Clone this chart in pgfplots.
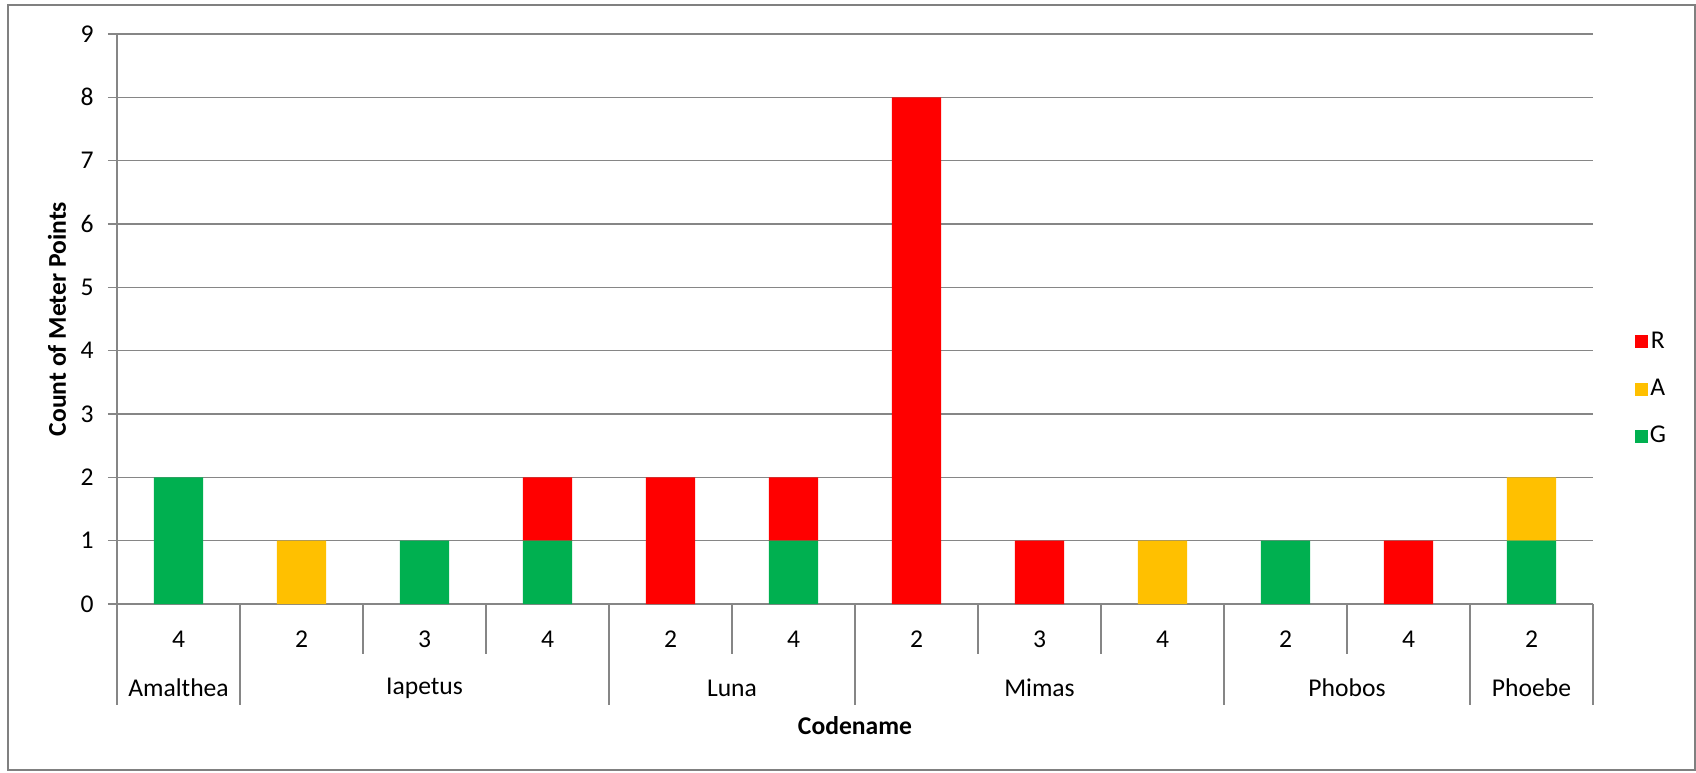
\documentclass[border=0pt]{standalone}
\usepackage{pgfplots}
\pgfplotsset{compat=1.18}
\usepackage{fontspec}
\setmainfont{Carlito}
\definecolor{cR}{RGB}{255,0,0}
\definecolor{cA}{RGB}{255,192,0}
\definecolor{cG}{RGB}{0,176,80}
\definecolor{gridc}{RGB}{134,134,134}
\definecolor{framec}{RGB}{128,128,128}
\begin{document}
\fontsize{12.8}{15}\selectfont
\begin{tikzpicture}
\path[use as bounding box] (0,0) rectangle (848pt,386pt);
\draw[framec, line width=1pt] (4pt,1pt) rectangle (847.5pt,383.5pt);
\begin{axis}[
  at={(58.5pt,84pt)}, anchor=south west,
  scale only axis, width=738pt, height=285pt,
  ybar stacked, bar width=0.4,
  xmin=-0.5, xmax=11.5, ymin=0, ymax=9,
  xtick={0,...,11}, xticklabels={4,2,3,4,2,4,2,3,4,2,4,2},
  ytick={0,...,9},
  /pgf/number format/assume math mode=true,
  axis lines*=left,
  axis line style={gridc, line width=0.75pt},
  ymajorgrids, grid style={gridc, line width=0.75pt},
  tick align=outside, major tick length=4.5pt,
  xtick style={draw=none},
  ytick style={gridc, line width=0.75pt},
  ticklabel style={font=\fontsize{12.8}{15}\selectfont, text=black},
  xticklabel style={anchor=center, inner sep=0pt, yshift=-13pt},
  yticklabel style={anchor=east, inner sep=0pt, xshift=-7pt},
  clip=false,
  ylabel={Count of Meter Points}, xlabel={Codename},
  every axis y label/.style={at={(axis description cs:0,0.5)}, xshift=-30pt, rotate=90, anchor=center, font=\fontsize{12.8}{15}\selectfont\bfseries},
  every axis x label/.style={at={(axis description cs:0.5,0)}, yshift=-61pt, anchor=center, font=\fontsize{12.8}{15}\selectfont\bfseries},
  reverse legend,
  legend style={at={(rel axis cs:1.028,0.377)}, anchor=west, draw=none, fill=none, inner sep=0pt,
    font=\fontsize{12.8}{15}\selectfont, row sep=11.5pt,
    nodes={inner sep=1pt}},
  legend image code/.code={\fill (0pt,-3.25pt) rectangle (6.5pt,3.25pt);},
]
\addplot[fill=cG, draw=none] coordinates {(0,2)(1,0)(2,1)(3,1)(4,0)(5,1)(6,0)(7,0)(8,0)(9,1)(10,0)(11,1)};
\addplot[fill=cA, draw=none] coordinates {(0,0)(1,1)(2,0)(3,0)(4,0)(5,0)(6,0)(7,0)(8,1)(9,0)(10,0)(11,1)};
\addplot[fill=cR, draw=none] coordinates {(0,0)(1,0)(2,0)(3,1)(4,2)(5,1)(6,8)(7,1)(8,0)(9,0)(10,1)(11,0)};
\legend{G,A,R}
\pgfplotsinvokeforeach{-0.5,0.5,3.5,5.5,8.5,10.5,11.5}{
  \draw[gridc, line width=0.75pt] (axis cs:#1,0) -- ([yshift=-50.5pt]axis cs:#1,0);
}
\pgfplotsinvokeforeach{1.5,2.5,4.5,6.5,7.5,9.5}{
  \draw[gridc, line width=0.75pt] (axis cs:#1,0) -- ([yshift=-25pt]axis cs:#1,0);
}
\node[anchor=center, inner sep=0pt] at ([yshift=-42pt]axis cs:0,0) {Amalthea};
\node[anchor=center, inner sep=0pt] at ([yshift=-42pt]axis cs:2,0) {Iapetus};
\node[anchor=center, inner sep=0pt] at ([yshift=-42pt]axis cs:4.5,0) {Luna};
\node[anchor=center, inner sep=0pt] at ([yshift=-42pt]axis cs:7,0) {Mimas};
\node[anchor=center, inner sep=0pt] at ([yshift=-42pt]axis cs:9.5,0) {Phobos};
\node[anchor=center, inner sep=0pt] at ([yshift=-42pt]axis cs:11,0) {Phoebe};
\end{axis}
\end{tikzpicture}
\end{document}
